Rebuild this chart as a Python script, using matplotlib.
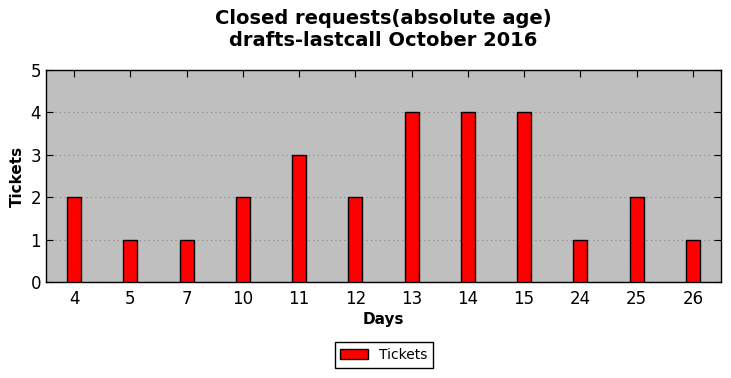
import matplotlib
matplotlib.use("Agg")
import matplotlib.pyplot as plt
import numpy as np

days = ["4", "5", "7", "10", "11", "12", "13", "14", "15", "24", "25", "26"]
tickets = [2, 1, 1, 2, 3, 2, 4, 4, 4, 1, 2, 1]

fig = plt.figure(figsize=(7.31, 3.78), dpi=100)
ax = fig.add_axes([0.0629, 0.254, 0.9863 - 0.0629, 0.8148 - 0.254])
ax.set_facecolor("#bfbfbf")
x = np.arange(len(days))
ax.bar(x, tickets, width=0.25, color="#ff0000", edgecolor="black", linewidth=1.0, label="Tickets", zorder=3)
ax.set_xlim(-0.5, len(days) - 0.5)
ax.set_ylim(0, 5)
ax.set_xticks(x)
ax.set_xticklabels(days)
ax.set_yticks(range(6))
ax.tick_params(axis="both", direction="in", top=True, right=True, labelsize=12, length=5)
ax.tick_params(axis="x", pad=6)
ax.yaxis.grid(True, linestyle=(0, (1, 3)), color="#888888", linewidth=0.8, zorder=0)
ax.set_axisbelow(True)
for s in ax.spines.values():
    s.set_linewidth(1.0)
ax.set_xlabel("Days", fontsize=11, fontweight="bold", labelpad=2.5)
ax.set_ylabel("Tickets", fontsize=11, fontweight="bold")
ax.set_title("Closed requests(absolute age)\ndrafts-lastcall October 2016", fontsize=14, fontweight="bold", pad=17)
leg = fig.legend(loc="center", bbox_to_anchor=(384 / 731, 1 - 355 / 378), fontsize=10, fancybox=False, edgecolor="black", framealpha=1)
leg.get_frame().set_linewidth(1.0)
fig.savefig("out.png", dpi=100)
